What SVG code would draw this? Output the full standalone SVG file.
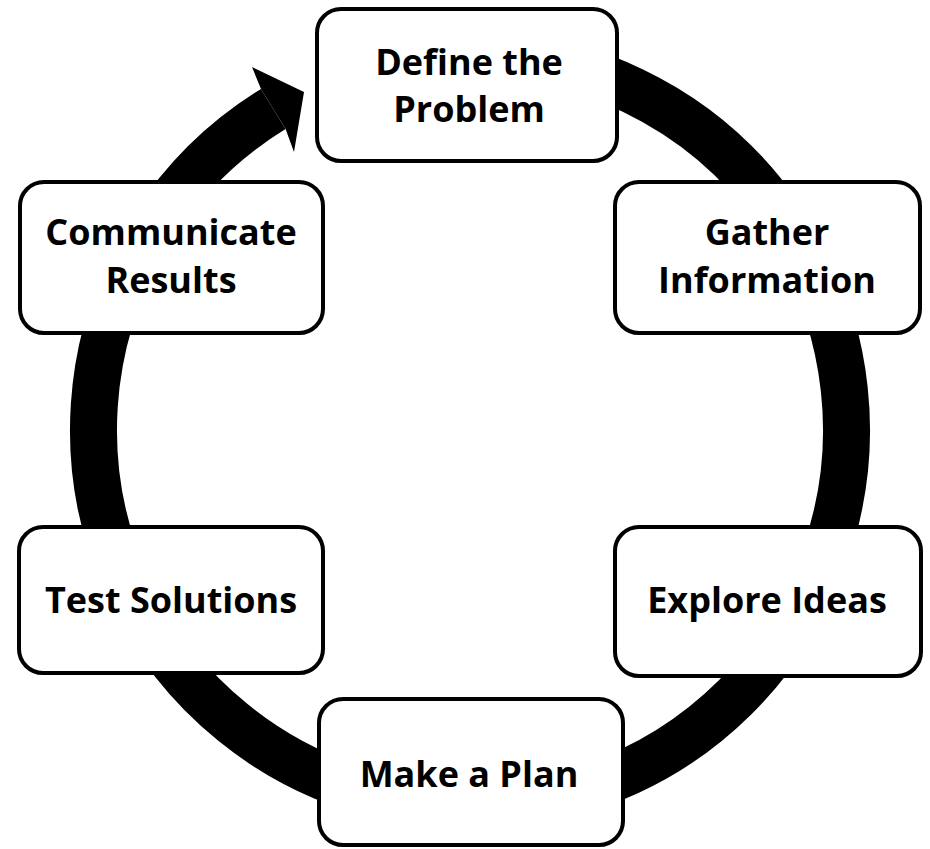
<svg xmlns="http://www.w3.org/2000/svg" width="930" height="849" viewBox="0 0 930 849">
<style>
.box{fill:#fff;stroke:#000;stroke-width:4}
.lbl{font-family:"Open Sans","Liberation Sans",sans-serif;font-weight:bold;font-size:36px;fill:#000;text-anchor:middle}
</style>
<rect width="930" height="849" fill="#fff"/>
<g id="connectors">
<path d="M 470 53.5 A 376.5 376.5 0 1 1 273.28 108.98" fill="none" stroke="#000" stroke-width="47"/>
<polygon points="261,89 252,67 304,92 294,152 285.6,129" fill="#000"/>
</g>
<g id="define">
<rect class="box" x="317" y="9" width="300" height="152" rx="24"/>
<text class="lbl" x="469" y="75">Define the</text>
<text class="lbl" x="469" y="122">Problem</text>
</g>
<g id="gather">
<rect class="box" x="615" y="182" width="305" height="151" rx="24"/>
<text class="lbl" x="767" y="245">Gather</text>
<text class="lbl" x="767" y="293">Information</text>
</g>
<g id="explore">
<rect class="box" x="615" y="527" width="306" height="149" rx="24"/>
<text class="lbl" x="767" y="613">Explore Ideas</text>
</g>
<g id="plan">
<rect class="box" x="319" y="699" width="304" height="146" rx="24"/>
<text class="lbl" x="469" y="787">Make a Plan</text>
</g>
<g id="test">
<rect class="box" x="19" y="527" width="304" height="146" rx="24"/>
<text class="lbl" x="171" y="613">Test Solutions</text>
</g>
<g id="communicate">
<rect class="box" x="20" y="182" width="303" height="151" rx="24"/>
<text class="lbl" x="171" y="245">Communicate</text>
<text class="lbl" x="171" y="293">Results</text>
</g>
</svg>
